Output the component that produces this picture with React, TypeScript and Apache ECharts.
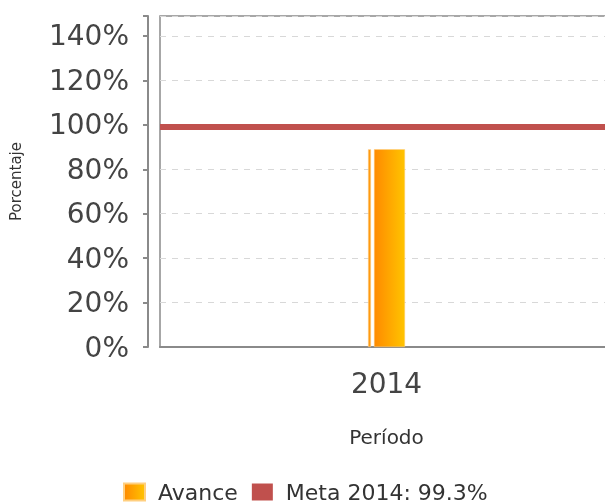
import React, { useEffect, useRef } from "react";
import * as echarts from "echarts";

const categories = ["2014"];
const avanceValues = [89];
const metaValue = 99.3;
const legendNames = ["Avance", "Meta 2014: 99.3%"];

export default function App() {
  const ref = useRef<HTMLDivElement>(null);
  useEffect(() => {
    if (!ref.current) return;
    const chart = echarts.init(ref.current, null, { renderer: "svg" });
    const font = "DejaVu Sans";
    chart.setOption({
      animation: false,
      textStyle: { fontFamily: font },
      grid: {
        left: 157,
        top: 16,
        right: 87,
        bottom: 156,
        show: true,
        borderColor: "#8a8a8a",
        borderWidth: 1.5,
        backgroundColor: "#fff",
      },
      legend: {
        left: 118,
        top: 476,
        itemWidth: 21,
        itemHeight: 17,
        itemGap: 14,
        icon: "rect",
        data: legendNames,
        textStyle: { fontSize: 22, color: "#333", fontFamily: font, padding: [0, 0, 0, 8] },
      },
      xAxis: {
        type: "category",
        data: categories,
        offset: 10,
        axisLine: { show: true, lineStyle: { color: "#8a8a8a", width: 2 } },
        axisTick: { show: false },
        axisLabel: { fontSize: 28, color: "#444", margin: 12 },
        name: "Período",
        nameLocation: "middle",
        nameGap: 70,
        nameTextStyle: { fontSize: 20, color: "#333" },
        splitLine: { show: false },
      },
      yAxis: {
        type: "value",
        min: 0,
        max: 149,
        interval: 20,
        offset: 12,
        axisLine: { show: true, lineStyle: { color: "#8a8a8a", width: 2 } },
        axisTick: { show: true, length: 5, lineStyle: { color: "#8a8a8a", width: 2 } },
        axisLabel: {
          fontSize: 28,
          color: "#444",
          margin: 19,
          formatter: (v: number) => (v % 20 === 0 ? v + "%" : ""),
        },
        splitLine: {
          show: true,
          lineStyle: { color: "#d8d8d8", type: [6, 6], width: 1 },
        },
        name: "Porcentaje",
        nameLocation: "middle",
        nameGap: 125,
        nameTextStyle: { fontSize: 15, color: "#333" },
      },
      series: [
        {
          name: "sombra",
          type: "bar",
          data: avanceValues,
          barWidth: 3,
          barGap: "100%",
          itemStyle: { color: "#ff9a10", borderColor: "#ffd9a0", borderWidth: 0.5 },
          legendHoverLink: false,
        },
        {
          name: legendNames[0],
          type: "bar",
          data: avanceValues,
          barWidth: 31,
          itemStyle: {
            color: new echarts.graphic.LinearGradient(0, 0, 1, 0, [
              { offset: 0, color: "#ff8a00" },
              { offset: 1, color: "#ffc400" },
            ]),
            borderColor: "#ffcf80",
            borderWidth: 0.5,
          },
        },
        {
          name: legendNames[1],
          type: "line",
          data: [],
          itemStyle: { color: "#c0504d" },
          markLine: {
            symbol: "none",
            silent: true,
            label: { show: false },
            lineStyle: { color: "#c0504d", width: 6, type: "solid" },
            data: [{ yAxis: metaValue }],
          },
        },
      ],
    });
    return () => chart.dispose();
  }, []);
  return (
    <div
      style={{
        position: "fixed",
        left: 0,
        top: 0,
        width: 605,
        height: 503,
        overflow: "hidden",
      }}
    >
      <div ref={ref} style={{ width: 700, height: 503 }} />
    </div>
  );
}
